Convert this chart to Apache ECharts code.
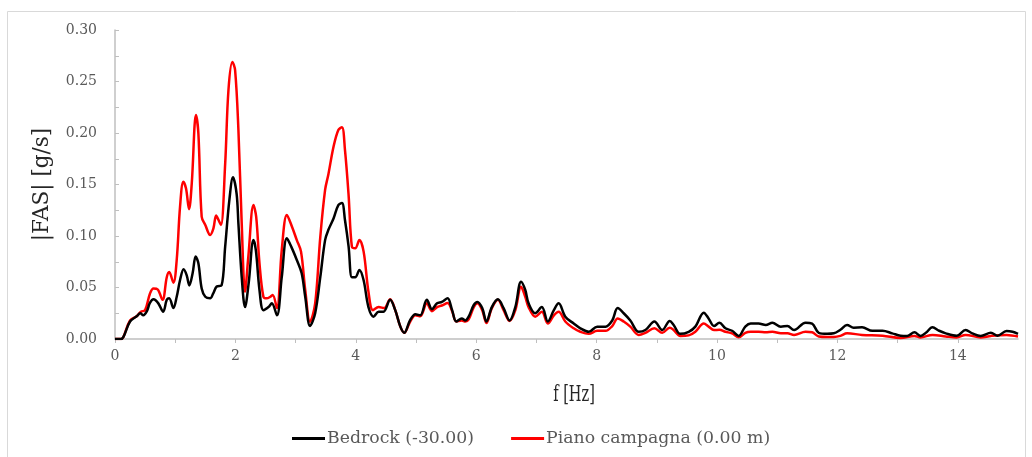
<!DOCTYPE html>
<html>
<head>
<meta charset="utf-8">
<script src="https://cdn.jsdelivr.net/npm/echarts@6/dist/echarts.min.js"></script>
<style>
  html, body { margin: 0; padding: 0; background: #ffffff; }
  #chart { width: 1032px; height: 457px; }
</style>
</head>
<body>
<div id="chart"></div>
<script>
// Fourier amplitude spectra: bedrock input vs. ground surface
const seriesNames = ['Bedrock (-30.00)', 'Piano campagna (0.00 m)'];
const xTitle = 'f [Hz]';
const yTitle = '|FAS| [g/s]';

const freqBedrock = [
  0.00, 0.10, 0.14, 0.25, 0.36, 0.42, 0.47, 0.53, 0.58, 0.64, 0.72, 0.80, 0.86, 0.90, 0.97,
  1.025, 1.08, 1.14, 1.19, 1.235, 1.29, 1.34, 1.385, 1.44, 1.50, 1.58, 1.63, 1.69, 1.77, 1.83,
  1.90, 1.96, 2.02, 2.05, 2.105, 2.16, 2.22, 2.30, 2.34, 2.40, 2.465, 2.55, 2.605, 2.69, 2.77,
  2.855, 2.94, 3.02, 3.10, 3.16, 3.24, 3.325, 3.41, 3.49, 3.545, 3.63, 3.71, 3.77, 3.82, 3.88,
  3.935, 3.99, 4.06, 4.13, 4.21, 4.295, 4.38, 4.46, 4.57, 4.655, 4.74, 4.805, 4.90, 4.99, 5.07,
  5.18, 5.265, 5.35, 5.43, 5.525, 5.60, 5.67, 5.76, 5.82, 5.875, 5.96, 6.02, 6.10, 6.17, 6.26,
  6.36, 6.455, 6.555, 6.65, 6.745, 6.815, 6.87, 6.98, 7.09, 7.19, 7.29, 7.37, 7.48, 7.62, 7.73,
  7.87, 8.01, 8.15, 8.26, 8.35, 8.45, 8.56, 8.70, 8.81, 8.96, 9.09, 9.215, 9.28, 9.39, 9.53,
  9.64, 9.78, 9.86, 9.95, 10.04, 10.14, 10.25, 10.36, 10.47, 10.56, 10.69, 10.81, 10.92, 11.06, 11.17,
  11.28, 11.47, 11.58, 11.69, 11.83, 11.94, 12.05, 12.16, 12.27, 12.41, 12.58, 12.75, 12.91, 13.05, 13.16,
  13.28, 13.38, 13.47, 13.58, 13.69, 13.80, 13.98, 14.13, 14.24, 14.38, 14.55, 14.66, 14.81, 14.91, 15.00
];
const fasBedrock = [
  0.000, 0.000, 0.002, 0.017, 0.022, 0.025, 0.023, 0.027, 0.035, 0.0385, 0.0346, 0.0265, 0.038, 0.0395, 0.030,
  0.041, 0.057, 0.0677, 0.062, 0.052, 0.064, 0.080, 0.0735, 0.049, 0.041, 0.0395, 0.044, 0.051, 0.052, 0.0896,
  0.135, 0.157, 0.141, 0.112, 0.060, 0.031, 0.054, 0.096, 0.086, 0.0476, 0.028, 0.031, 0.0346, 0.023, 0.060,
  0.0977, 0.088, 0.0767, 0.064, 0.041, 0.0126, 0.025, 0.060, 0.096, 0.106, 0.117, 0.130, 0.132, 0.1155, 0.090,
  0.060, 0.060, 0.067, 0.057, 0.031, 0.0217, 0.0265, 0.0265, 0.038, 0.028, 0.012, 0.006, 0.018, 0.024, 0.023,
  0.038, 0.029, 0.0346, 0.036, 0.0395, 0.028, 0.017, 0.020, 0.018, 0.0217, 0.033, 0.036, 0.030, 0.017, 0.031,
  0.0385, 0.030, 0.018, 0.031, 0.0556, 0.0476, 0.0346, 0.025, 0.031, 0.017, 0.028, 0.0346, 0.0217, 0.015, 0.0104,
  0.007, 0.012, 0.012, 0.018, 0.030, 0.025, 0.018, 0.007, 0.0087, 0.017, 0.0087, 0.0175, 0.0136, 0.005, 0.007,
  0.012, 0.0256, 0.020, 0.0126, 0.0158, 0.0104, 0.008, 0.003, 0.012, 0.015, 0.015, 0.0136, 0.0158, 0.012, 0.0126,
  0.0087, 0.0158, 0.015, 0.006, 0.005, 0.0055, 0.009, 0.0136, 0.011, 0.0113, 0.008, 0.008, 0.0055, 0.0032, 0.003,
  0.0065, 0.003, 0.006, 0.0113, 0.008, 0.0055, 0.0032, 0.0087, 0.0055, 0.003, 0.006, 0.0032, 0.0078, 0.007, 0.005
];

const freqSurface = [
  0.00, 0.10, 0.14, 0.25, 0.36, 0.43, 0.50, 0.58, 0.64, 0.71, 0.79, 0.86, 0.90, 0.97, 1.025,
  1.08, 1.135, 1.18, 1.23, 1.275, 1.345, 1.385, 1.44, 1.50, 1.58, 1.635, 1.68, 1.72, 1.76, 1.83,
  1.885, 1.95, 1.995, 2.05, 2.105, 2.16, 2.215, 2.30, 2.345, 2.40, 2.465, 2.52, 2.58, 2.62, 2.69,
  2.77, 2.855, 2.94, 3.02, 3.09, 3.16, 3.24, 3.325, 3.41, 3.49, 3.545, 3.63, 3.71, 3.77, 3.82,
  3.88, 3.935, 3.99, 4.06, 4.13, 4.21, 4.285, 4.38, 4.47, 4.57, 4.655, 4.74, 4.805, 4.90, 4.99,
  5.07, 5.18, 5.265, 5.35, 5.43, 5.525, 5.60, 5.67, 5.76, 5.82, 5.875, 5.96, 6.02, 6.10, 6.17,
  6.26, 6.36, 6.455, 6.555, 6.65, 6.745, 6.815, 6.87, 6.98, 7.09, 7.19, 7.29, 7.37, 7.48, 7.62,
  7.73, 7.87, 8.01, 8.15, 8.26, 8.35, 8.45, 8.56, 8.70, 8.81, 8.96, 9.09, 9.215, 9.28, 9.39,
  9.53, 9.64, 9.78, 9.86, 9.95, 10.04, 10.14, 10.25, 10.36, 10.47, 10.56, 10.69, 10.81, 10.92, 11.06,
  11.17, 11.28, 11.47, 11.58, 11.69, 11.83, 11.94, 12.05, 12.16, 12.41, 12.75, 13.05, 13.28, 13.38, 13.58,
  13.80, 13.98, 14.13, 14.38, 14.55, 14.81, 15.00
];
const fasSurface = [
  0.000, 0.000, 0.002, 0.018, 0.022, 0.0265, 0.028, 0.044, 0.049, 0.048, 0.038, 0.060, 0.065, 0.0547, 0.0767,
  0.128, 0.1527, 0.146, 0.126, 0.151, 0.2175, 0.1997, 0.1187, 0.1107, 0.101, 0.1075, 0.120, 0.1155, 0.1107, 0.170,
  0.242, 0.269, 0.261, 0.203, 0.112, 0.046, 0.080, 0.130, 0.1187, 0.0735, 0.041, 0.0395, 0.041, 0.0427, 0.030,
  0.0864, 0.1204, 0.109, 0.096, 0.0848, 0.0476, 0.0168, 0.0346, 0.099, 0.1447, 0.160, 0.1867, 0.203, 0.2055, 0.1835,
  0.140, 0.0896, 0.088, 0.096, 0.0848, 0.046, 0.028, 0.031, 0.030, 0.0385, 0.028, 0.012, 0.006, 0.0165, 0.023,
  0.022, 0.0346, 0.027, 0.031, 0.0325, 0.035, 0.027, 0.017, 0.018, 0.017, 0.019, 0.031, 0.0346, 0.028, 0.0155,
  0.030, 0.038, 0.028, 0.0175, 0.028, 0.0508, 0.041, 0.031, 0.0217, 0.0265, 0.015, 0.023, 0.0265, 0.017, 0.0104,
  0.007, 0.005, 0.008, 0.008, 0.0126, 0.020, 0.017, 0.012, 0.004, 0.006, 0.0104, 0.006, 0.011, 0.0087, 0.003,
  0.0035, 0.007, 0.015, 0.012, 0.0087, 0.009, 0.007, 0.0055, 0.0017, 0.006, 0.007, 0.007, 0.0065, 0.007, 0.0055,
  0.0055, 0.004, 0.007, 0.0065, 0.0025, 0.002, 0.002, 0.003, 0.0055, 0.004, 0.0032, 0.001, 0.003, 0.0015, 0.004,
  0.0025, 0.0015, 0.004, 0.0015, 0.003, 0.004, 0.0025
];

const pairs = (xs, ys) => xs.map((x, i) => [x, ys[i]]);

const chart = echarts.init(document.getElementById('chart'), null, { renderer: 'canvas' });

const serif = '"DejaVu Serif", "Liberation Serif", serif';
const grey = '#595959';
const titleGrey = '#262626';
const axisGrey = '#bfbfbf';

chart.setOption({
  animation: false,
  backgroundColor: '#ffffff',
  graphic: [
    {
      // chart-area frame
      type: 'rect',
      silent: true,
      shape: { x: 7.5, y: 11.5, width: 1018, height: 452 },
      style: { fill: 'none', stroke: '#d9d9d9', lineWidth: 1 }
    },
    {
      // horizontal axis title, set in a narrow face
      type: 'text',
      silent: true,
      x: 574,
      y: 395,
      scaleX: 0.66,
      style: {
        text: xTitle,
        fontFamily: serif,
        fontSize: 22,
        fill: titleGrey,
        align: 'center',
        verticalAlign: 'middle'
      }
    }
  ],
  grid: { left: 115, right: 14, top: 30, bottom: 118, containLabel: false },
  legend: {
    data: seriesNames,
    top: 425,
    left: 287,
    icon: 'rect',
    itemWidth: 33,
    itemHeight: 3,
    itemGap: 37,
    textStyle: { fontFamily: serif, fontSize: 17.3, color: grey, padding: [0, 0, 0, -3] }
  },
  xAxis: {
    type: 'value',
    min: 0,
    max: 15,
    interval: 1,
    axisLine: { show: true, lineStyle: { color: axisGrey, width: 1.5 } },
    axisTick: { show: true, length: 4, lineStyle: { color: axisGrey, width: 1 } },
    axisLabel: {
      fontFamily: serif, fontSize: 14, color: grey, margin: 10,
      showMaxLabel: false,
      formatter: v => (v % 2 === 0 ? String(v) : '')
    },
    splitLine: { show: false }
  },
  yAxis: {
    type: 'value',
    min: 0,
    max: 0.30,
    interval: 0.05,
    name: yTitle,
    nameLocation: 'middle',
    nameGap: 62,
    nameTextStyle: { fontFamily: serif, fontSize: 21.5, color: titleGrey },
    axisLine: { show: true, lineStyle: { color: axisGrey, width: 1.5 } },
    axisTick: { show: true, inside: true, length: 4, lineStyle: { color: axisGrey, width: 1 } },
    minorTick: { show: true, splitNumber: 2, length: 4, lineStyle: { color: axisGrey, width: 1 } },
    axisLabel: {
      fontFamily: serif, fontSize: 14, color: grey, margin: 18,
      formatter: v => v.toFixed(2)
    },
    splitLine: { show: false }
  },
  series: [
    {
      name: seriesNames[0],
      type: 'line',
      data: pairs(freqBedrock, fasBedrock),
      smooth: 0.35,
      symbol: 'none',
      lineStyle: { color: '#000000', width: 2.5 },
      itemStyle: { color: '#000000' },
      z: 3
    },
    {
      name: seriesNames[1],
      type: 'line',
      data: pairs(freqSurface, fasSurface),
      smooth: 0.35,
      symbol: 'none',
      lineStyle: { color: '#ff0000', width: 2.5 },
      itemStyle: { color: '#ff0000' },
      z: 2
    }
  ]
});
</script>
</body>
</html>
